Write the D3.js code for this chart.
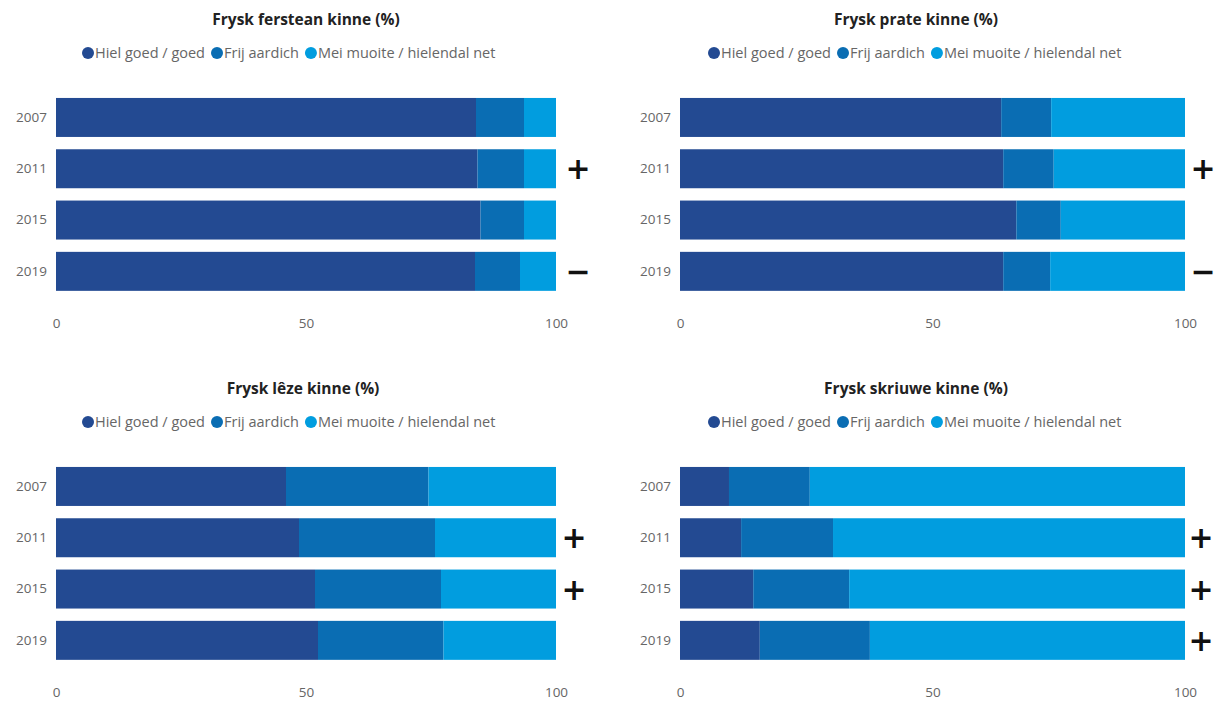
<!DOCTYPE html>
<html lang="fy">
<head>
<meta charset="utf-8">
<script src="https://d3js.org/d3.v7.min.js"></script>
<style>
  body { margin: 0; background: #fff; }
  svg { display: block; font-family: "Open Sans", "Noto Sans", sans-serif; }
  .title { font-size: 15.5px; font-weight: bold; fill: #222; }
  .legend text { font-size: 14.5px; fill: #666; }
  .axis text { font-size: 13.5px; fill: #666; font-family: "Open Sans", "Noto Sans", sans-serif; }
  .trend { font-size: 30px; font-weight: bold; fill: #111; font-family: "DejaVu Sans", sans-serif; }
</style>
</head>
<body>
<svg width="1216" height="704"></svg>
<script>
// data (percentages)
var years = ["2007", "2011", "2015", "2019"];
var seriesNames = ["Hiel goed / goed", "Frij aardich", "Mei muoite / hielendal net"];
var colors = ["#234a92", "#0a6db3", "#019ddf"];

var fersteanGoed    = [84.0, 84.3, 84.9, 83.8];
var fersteanAardich = [9.6, 9.3, 8.7, 9.0];
var fersteanMuoite  = [6.4, 6.4, 6.4, 7.2];
var fersteanTrend   = ["", "+", "", "\u2212"];

var prateGoed    = [63.6, 64.0, 66.6, 64.0];
var prateAardich = [9.9, 10.0, 8.8, 9.3];
var prateMuoite  = [26.5, 26.0, 24.6, 26.7];
var prateTrend   = ["", "+", "", "\u2212"];

var lezeGoed    = [46.0, 48.6, 51.8, 52.4];
var lezeAardich = [28.5, 27.2, 25.2, 25.1];
var lezeMuoite  = [25.5, 24.2, 23.0, 22.5];
var lezeTrend   = ["", "+", "+", ""];

var skriuweGoed    = [9.7, 12.1, 14.5, 15.8];
var skriuweAardich = [16.0, 18.2, 19.0, 21.8];
var skriuweMuoite  = [74.3, 69.7, 66.5, 62.4];
var skriuweTrend   = ["", "+", "+", "+"];

var xTicks = [0, 50, 100];

var panels = [
  { title: "Frysk ferstean kinne (%)", s: [fersteanGoed, fersteanAardich, fersteanMuoite], trend: fersteanTrend,
    x0: 56, x1: 556, top: 0, titleX: 306, legendX: 82, signX: 578 },
  { title: "Frysk prate kinne (%)", s: [prateGoed, prateAardich, prateMuoite], trend: prateTrend,
    x0: 680, x1: 1185, top: 0, titleX: 916, legendX: 708, signX: 1203 },
  { title: "Frysk l\u00eaze kinne (%)", s: [lezeGoed, lezeAardich, lezeMuoite], trend: lezeTrend,
    x0: 56, x1: 556, top: 369, titleX: 303, legendX: 82, signX: 574 },
  { title: "Frysk skriuwe kinne (%)", s: [skriuweGoed, skriuweAardich, skriuweMuoite], trend: skriuweTrend,
    x0: 680, x1: 1185, top: 369, titleX: 916, legendX: 708, signX: 1201 }
];

var svg = d3.select("svg");

panels.forEach(function(p) {
  var g = svg.append("g").attr("transform", "translate(0," + p.top + ")");

  var x = d3.scaleLinear().domain([0, 100]).range([p.x0, p.x1]);
  var y = d3.scaleBand().domain(years).range([91.8, 297]).paddingInner(0.24).paddingOuter(0.12);

  // stack rows
  var rows = years.map(function(yr, i) {
    return { year: yr, a: p.s[0][i], b: p.s[1][i], c: p.s[2][i] };
  });
  var stacked = d3.stack().keys(["a", "b", "c"])(rows);

  g.selectAll("g.layer")
    .data(stacked)
    .enter().append("g")
      .attr("class", "layer")
      .attr("fill", function(d, i) { return colors[i]; })
    .selectAll("rect")
    .data(function(d) { return d; })
    .enter().append("rect")
      .attr("x", function(d) { return x(d[0]); })
      .attr("width", function(d) { return x(d[1]) - x(d[0]); })
      .attr("y", function(d) { return y(d.data.year); })
      .attr("height", y.bandwidth());

  // year labels
  var yAxis = g.append("g")
      .attr("class", "axis")
      .attr("transform", "translate(" + p.x0 + ",0)")
      .call(d3.axisLeft(y).tickSize(0).tickPadding(9));
  yAxis.select(".domain").remove();

  // x labels
  var xAxis = g.append("g")
      .attr("class", "axis")
      .attr("transform", "translate(0,318)")
      .call(d3.axisBottom(x).tickValues(xTicks).tickSize(0).tickPadding(0));
  xAxis.select(".domain").remove();

  // trend signs
  g.selectAll("text.trend")
    .data(years)
    .enter().append("text")
      .attr("class", "trend")
      .attr("x", p.signX)
      .attr("y", function(d) { return y(d) + y.bandwidth() / 2; })
      .attr("dy", "0.35em")
      .attr("text-anchor", "middle")
      .text(function(d, i) { return p.trend[i]; });

  // title
  g.append("text")
    .attr("class", "title")
    .attr("x", p.titleX)
    .attr("y", 20)
    .attr("dy", "0.35em")
    .attr("text-anchor", "middle")
    .text(p.title);

  // legend
  var leg = g.append("g").attr("class", "legend").attr("transform", "translate(" + p.legendX + ",53)");
  var cx = 6;
  seriesNames.forEach(function(name, i) {
    leg.append("circle").attr("cx", cx).attr("cy", 0).attr("r", 6).attr("fill", colors[i]);
    var t = leg.append("text").attr("x", cx + 7).attr("dy", "0.35em").text(name);
    cx += 7 + t.node().getComputedTextLength() + 12;
  });
});
</script>
</body>
</html>
